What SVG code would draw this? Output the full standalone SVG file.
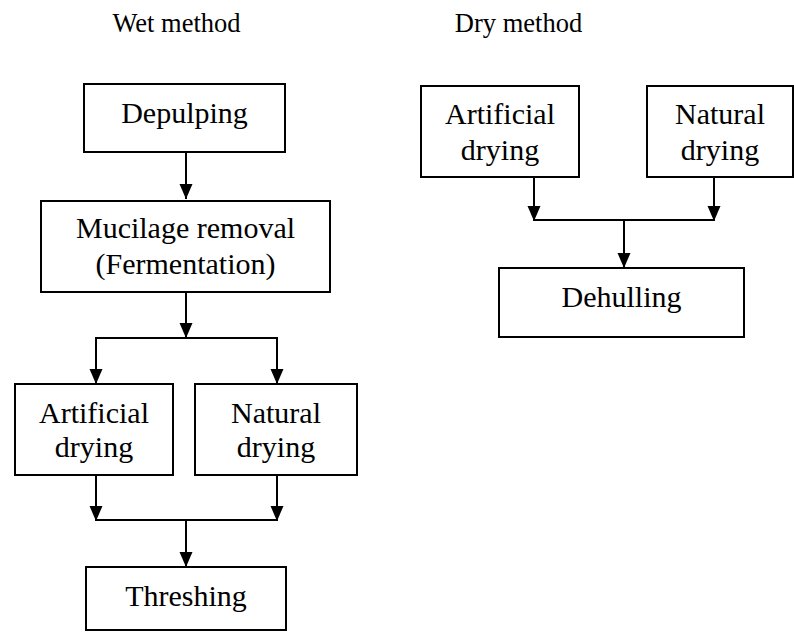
<svg xmlns="http://www.w3.org/2000/svg" width="794" height="632" viewBox="0 0 794 632">
<defs>
<marker id="ah" markerUnits="userSpaceOnUse" markerWidth="16" markerHeight="14" refX="15" refY="6.5" orient="auto" viewBox="0 0 16 14">
<path d="M0,0 L15,6.5 L0,13 Z" fill="#000"/>
</marker>
</defs>
<style>
rect{fill:#fff;stroke:#000;stroke-width:2}
text{font-family:'Liberation Serif',serif;font-size:30px;fill:#000;text-anchor:middle}
.h{font-size:26.5px}
.c{fill:none;stroke:#000;stroke-width:2}
.a{marker-end:url(#ah)}
</style>
<g id="headings">
<text class="h" x="176.5" y="32">Wet method</text>
<text class="h" x="518.5" y="32">Dry method</text>
</g>
<g id="connectors">
<line class="c a" x1="186" y1="152" x2="186" y2="199"/>
<line class="c a" x1="186" y1="292" x2="186" y2="338"/>
<polyline class="c" points="96,383 96,338 277,338 277,383"/>
<line class="c a" x1="96" y1="338" x2="96" y2="384"/>
<line class="c a" x1="277" y1="338" x2="277" y2="384"/>
<line class="c a" x1="96" y1="475" x2="96" y2="521"/>
<line class="c a" x1="277" y1="475" x2="277" y2="521"/>
<line class="c" x1="96" y1="520" x2="277" y2="520"/>
<line class="c a" x1="186" y1="520" x2="186" y2="567"/>
<line class="c a" x1="534" y1="177" x2="534" y2="221"/>
<line class="c a" x1="714" y1="177" x2="714" y2="221"/>
<line class="c" x1="534" y1="220" x2="714" y2="220"/>
<line class="c a" x1="624" y1="220" x2="624" y2="268"/>
</g>
<g id="wet-depulping">
<rect x="84" y="84" width="201" height="68"/>
<text x="184.5" y="123">Depulping</text>
</g>
<g id="wet-mucilage">
<rect x="41" y="201" width="289" height="91"/>
<text x="185.5" y="238">Mucilage removal</text>
<text x="185.5" y="274">(Fermentation)</text>
</g>
<g id="wet-artificial">
<rect x="15" y="384" width="158" height="91"/>
<text x="94" y="423">Artificial</text>
<text x="94" y="457">drying</text>
</g>
<g id="wet-natural">
<rect x="195" y="384" width="162" height="91"/>
<text x="276" y="423">Natural</text>
<text x="276" y="457">drying</text>
</g>
<g id="wet-threshing">
<rect x="86" y="567" width="200" height="63"/>
<text x="186" y="606">Threshing</text>
</g>
<g id="dry-artificial">
<rect x="421" y="86" width="158" height="91"/>
<text x="500" y="124">Artificial</text>
<text x="500" y="160">drying</text>
</g>
<g id="dry-natural">
<rect x="647" y="86" width="146" height="91"/>
<text x="720" y="124">Natural</text>
<text x="720" y="160">drying</text>
</g>
<g id="dry-dehulling">
<rect x="499" y="268" width="245" height="69"/>
<text x="621.5" y="307">Dehulling</text>
</g>
</svg>
